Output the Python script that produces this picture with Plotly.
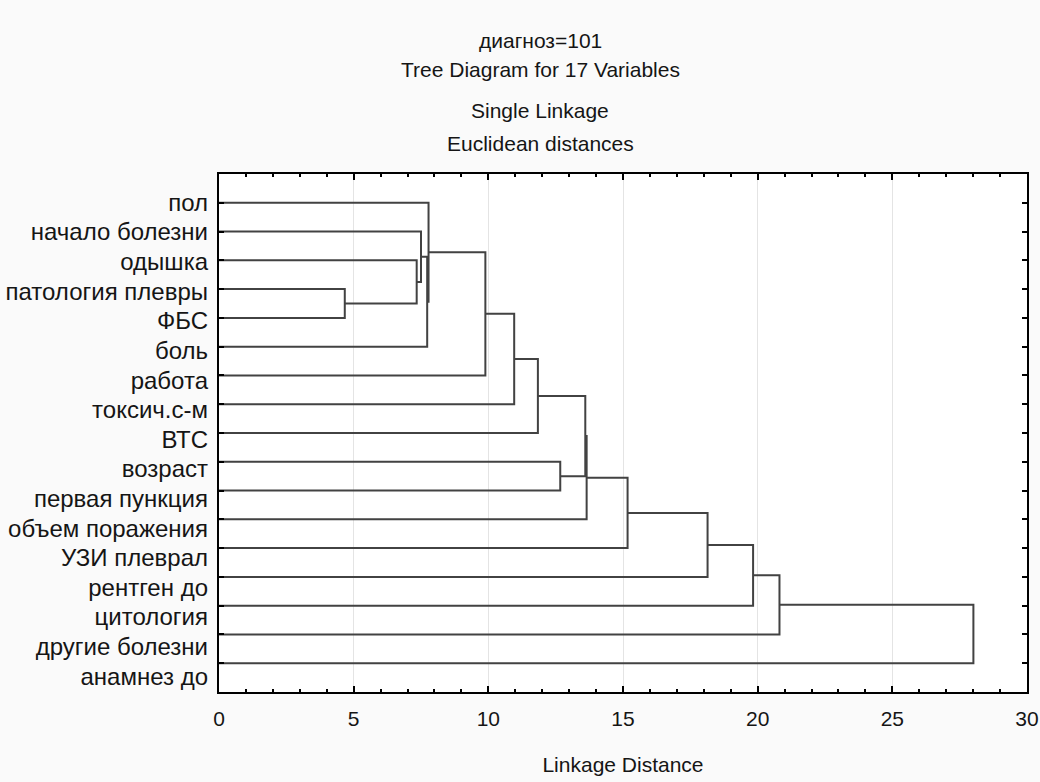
import plotly.graph_objects as go

# ---- data ----
leaf_labels = ["пол", "начало болезни", "одышка", "патология плевры", "ФБС", "боль",
               "работа", "токсич.с-м", "ВТС", "возраст", "первая пункция",
               "объем поражения", "УЗИ плеврал", "рентген до", "цитология",
               "другие болезни", "анамнез до"]

# merges: left child, right child, linkage distance (new cluster ids C1..C16)
merge_left = ["патология плевры", "одышка", "начало болезни", "C3", "пол", "C5", "C6", "C7",
              "возраст", "C8", "C10", "C11", "C12", "C13", "C14", "C15"]
merge_right = ["ФБС", "C1", "C2", "боль", "C4", "работа", "токсич.с-м", "ВТС",
               "первая пункция", "C9", "объем поражения", "УЗИ плеврал", "рентген до",
               "цитология", "другие болезни", "анамнез до"]
merge_dist = [4.67, 7.34, 7.50, 7.73, 7.78, 9.89, 10.96, 11.84,
              12.67, 13.60, 13.65, 15.17, 18.14, 19.83, 20.81, 28.01]

title_lines = ["диагноз=101", "Tree Diagram for 17 Variables", "Single Linkage", "Euclidean distances"]
x_title = "Linkage Distance"

# ---- build dendrogram segments ----
pos = {name: (0.0, float(i)) for i, name in enumerate(leaf_labels)}  # (height, row)
xs, ys = [], []
for k, (a, b, d) in enumerate(zip(merge_left, merge_right, merge_dist), start=1):
    ha, ya = pos[a]
    hb, yb = pos[b]
    xs += [ha, d, d, hb, None]
    ys += [ya, ya, yb, yb, None]
    pos["C%d" % k] = (d, (ya + yb) / 2.0)

FONT = "Liberation Sans, Arial, sans-serif"
TXT = "#151515"
fig = go.Figure()
fig.add_trace(go.Scatter(x=xs, y=ys, mode="lines",
                         line=dict(color="#424242", width=2),
                         hoverinfo="skip", showlegend=False))
# invisible trace carrying the label axis
fig.add_trace(go.Scatter(x=[0] * len(leaf_labels), y=list(range(len(leaf_labels))),
                         yaxis="y2", mode="markers", marker=dict(opacity=0),
                         hoverinfo="skip", showlegend=False))

n = len(leaf_labels)
fig.update_layout(
    template="none",
    width=1040, height=782, autosize=False,
    margin=dict(l=219, r=13, t=174, b=90, pad=0),
    paper_bgcolor="#fafafa", plot_bgcolor="#ffffff",
    font=dict(family=FONT, color=TXT, size=21),
    xaxis=dict(range=[0, 30], tick0=0, dtick=5, ticks="inside", ticklen=6,
               tickwidth=2, tickcolor="black", automargin=False,
               minor=dict(dtick=1, ticks="inside", ticklen=3, tickwidth=2,
                          tickcolor="black", showgrid=False),
               showgrid=True, gridcolor="#e4e4e4", gridwidth=1, zeroline=False,
               showline=True, linecolor="black", linewidth=2, mirror="ticks",
               tickfont=dict(size=21), ticklabelstandoff=7,
               title=dict(text=x_title, font=dict(size=21), standoff=28)),
    yaxis=dict(range=[n, -1], tickvals=list(range(n)), showticklabels=False,
               ticks="inside", ticklen=5, tickwidth=2, tickcolor="black",
               automargin=False,
               showgrid=False, zeroline=False, showline=True, linecolor="black",
               linewidth=2, mirror="ticks"),
    yaxis2=dict(overlaying="y", side="left", range=[n - 0.47, -0.96],
                tickvals=list(range(n)), ticktext=leaf_labels, ticks="",
                automargin=False,
                showgrid=False, zeroline=False, showline=False,
                tickfont=dict(size=24), ticklabelstandoff=10),
)

title_y_px = [41, 70, 111, 144]
for txt, ypx in zip(title_lines, title_y_px):
    fig.add_annotation(text=txt, xref="paper", yref="paper",
                       x=(540 - 219) / 808, y=(692 - ypx) / 518,
                       showarrow=False, xanchor="center", yanchor="middle",
                       font=dict(size=21, family=FONT, color=TXT))

fig.write_html("out.html", config={"displayModeBar": False},
               post_script="document.body.style.margin='0';document.body.style.background='#fafafa';")
